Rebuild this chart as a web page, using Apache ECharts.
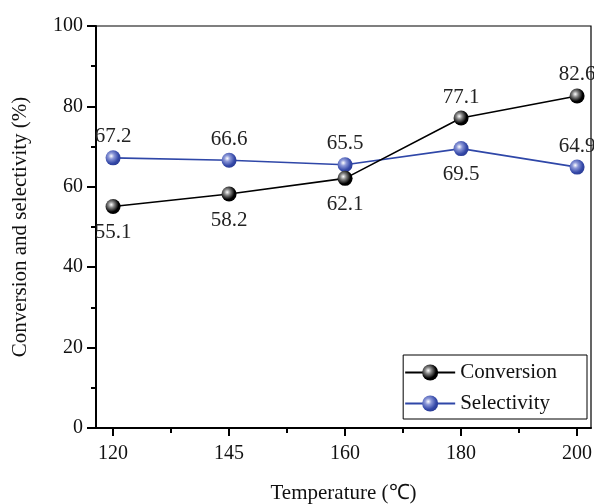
<!DOCTYPE html>
<html>
<head>
<meta charset="utf-8">
<script src="https://cdn.jsdelivr.net/npm/echarts@6/dist/echarts.min.js"></script>
<style>html,body{margin:0;padding:0;background:#fff}#c{width:594px;height:504px}</style>
</head>
<body>
<div id="c"></div>
<script>
var categories = ['120', '145', '160', '180', '200'];
var conversion = [55.1, 58.2, 62.1, 77.1, 82.6];
var selectivity = [67.2, 66.6, 65.5, 69.5, 64.9];
var conversionLabelPos = ['bottom', 'bottom', 'bottom', 'top', 'top'];
var selectivityLabelPos = ['top', 'top', 'top', 'bottom', 'top'];

var FONT = '"Liberation Serif", "Times New Roman", serif';
var chart = echarts.init(document.getElementById('c'));

function sphere(base) {
  return new echarts.graphic.RadialGradient(0.38, 0.38, 0.65, [
    { offset: 0, color: '#ffffff' },
    { offset: 0.3, color: base === 'black' ? '#888888' : '#8c98d8' },
    { offset: 0.75, color: base === 'black' ? '#000000' : '#3549a8' },
    { offset: 1, color: base === 'black' ? '#000000' : '#2a3c96' }
  ]);
}

function buildData(values, positions) {
  return values.map(function (v, i) {
    return {
      value: [i, v],
      label: { position: positions[i], distance: positions[i] === 'top' ? 3 : 8 }
    };
  });
}

var xMin = -0.147, xMax = 4.12;

chart.setOption({
  animation: false,
  backgroundColor: '#fff',
  grid: { left: 96, right: 3, top: 26, bottom: 76, containLabel: false, outerBoundsMode: 'none',
    show: true, borderColor: '#000', borderWidth: 1.2 },
  legend: {
    right: 7, top: 355,
    orient: 'vertical',
    backgroundColor: '#fff',
    borderColor: '#000', borderWidth: 1,
    padding: [7, 30, 5, 1],
    itemWidth: 50, itemHeight: 20, itemGap: 10,
    textStyle: { fontFamily: FONT, fontSize: 21, lineHeight: 20, color: '#111' },
    data: ['Conversion', 'Selectivity']
  },
  xAxis: [{
    type: 'value', min: xMin, max: xMax,
    name: 'Temperature (℃)', nameLocation: 'middle', nameGap: 55,
    nameTextStyle: { fontFamily: FONT, fontSize: 21, color: '#111' },
    axisLine: { show: true, onZero: false, lineStyle: { color: '#000', width: 2 } },
    axisTick: { show: true, customValues: [0, 1, 2, 3, 4], length: 8, lineStyle: { color: '#000', width: 2 } },
    axisLabel: {
      customValues: [0, 1, 2, 3, 4], margin: 16,
      fontFamily: FONT, fontSize: 20, color: '#111',
      formatter: function (v) { return categories[Math.round(v)]; }
    },
    splitLine: { show: false }
  }, {
    type: 'value', min: xMin, max: xMax, position: 'bottom',
    axisLine: { show: false, onZero: false },
    axisTick: { show: true, customValues: [0.5, 1.5, 2.5, 3.5], length: 5, lineStyle: { color: '#000', width: 2 } },
    axisLabel: { show: false },
    splitLine: { show: false }
  }],
  yAxis: {
    type: 'value', min: 0, max: 100, interval: 20,
    name: 'Conversion and selectivity (%)', nameLocation: 'middle', nameGap: 65,
    nameTextStyle: { fontFamily: FONT, fontSize: 21, color: '#111' },
    axisLine: { show: true, onZero: false, lineStyle: { color: '#000', width: 2 } },
    axisTick: { show: true, length: 9, lineStyle: { color: '#000', width: 2 } },
    minorTick: { show: true, splitNumber: 2, length: 5, lineStyle: { color: '#000', width: 2 } },
    axisLabel: { margin: 13, fontFamily: FONT, fontSize: 20, color: '#111' },
    splitLine: { show: false }
  },
  series: [{
    name: 'Conversion', type: 'line',
    data: buildData(conversion, conversionLabelPos),
    symbol: 'circle', symbolSize: 15,
    lineStyle: { color: '#000', width: 1.6 },
    itemStyle: { color: sphere('black') },
    label: { show: true, fontFamily: FONT, fontSize: 21, color: '#222',
      formatter: function (p) { return p.value[1].toFixed(1); } },
    z: 3
  }, {
    name: 'Selectivity', type: 'line',
    data: buildData(selectivity, selectivityLabelPos),
    symbol: 'circle', symbolSize: 15,
    lineStyle: { color: '#2f47a8', width: 1.6 },
    itemStyle: { color: sphere('blue') },
    label: { show: true, fontFamily: FONT, fontSize: 21, color: '#222',
      formatter: function (p) { return p.value[1].toFixed(1); } },
    z: 2
  }]
});
</script>
</body>
</html>
